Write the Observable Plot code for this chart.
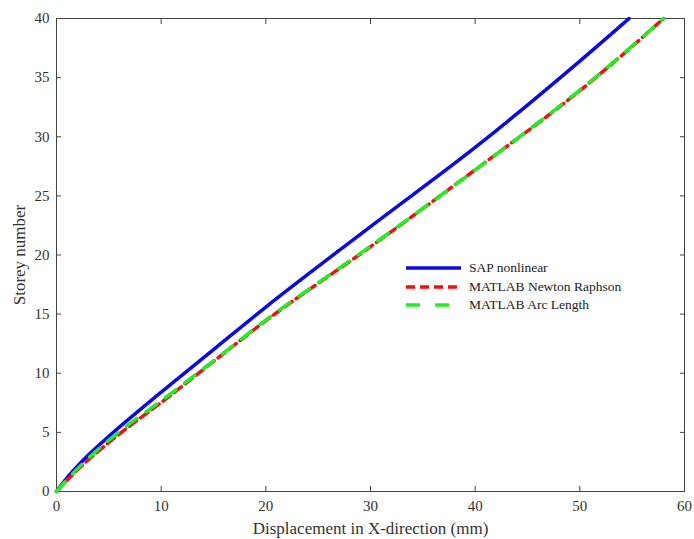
<!DOCTYPE html>
<html>
<head>
<meta charset="utf-8">
<script src="https://cdn.jsdelivr.net/npm/d3@7"></script>
<script src="https://cdn.jsdelivr.net/npm/@observablehq/plot@0.6"></script>
<style>
  body { margin: 0; background: #fff; }
  #wrap { position: relative; width: 694px; height: 539px; font-family: "Liberation Serif", "Times New Roman", serif; }
  #legend { position: absolute; left: 405px; top: 259px; font-size: 13.5px; color: #222; }
  #legend .row { display: flex; align-items: center; height: 18.5px; }
  #legend svg { margin-right: 8px; }
</style>
</head>
<body>
<div id="wrap"></div>
<script>
// Data
const sapX = [0, 1, 2.5, 5.3, 10, 15, 20, 30, 40, 50, 54.7];
const sapY = [0, 1.15, 2.6, 4.9, 8.4, 12.0, 15.6, 22.4, 29.1, 36.4, 40];
const nrX = [0, 1, 2.5, 6.2, 10.4, 15, 20, 30, 40, 50, 58];
const nrY = [0, 0.95, 2.25, 5, 7.8, 11.0, 14.45, 20.7, 27.2, 33.9, 40];
const alX = [0, 1, 2.5, 5.9, 10.2, 15, 20, 30, 40, 50, 58];
const alY = [0, 1.0, 2.35, 5, 7.8, 11.05, 14.5, 20.75, 27.2, 33.95, 40];
const seriesNames = ["SAP nonlinear", "MATLAB Newton Raphson", "MATLAB Arc Length"];
const xTicks = [0, 10, 20, 30, 40, 50, 60];
const yTicks = [0, 5, 10, 15, 20, 25, 30, 35, 40];

const toRows = (xs, ys) => xs.map((x, i) => ({x, y: ys[i]}));
const sap = toRows(sapX, sapY);
const nr = toRows(nrX, nrY);
const al = toRows(alX, alY);

const axisColor = "#444";
const chart = Plot.plot({
  width: 694,
  height: 539,
  marginLeft: 56,
  marginRight: 10,
  marginTop: 18,
  marginBottom: 48,
  style: {fontFamily: "Liberation Serif, Times New Roman, serif", fontSize: "15px", color: "#333", background: "#fff"},
  x: {domain: [0, 60]},
  y: {domain: [0, 40]},
  marks: [
    Plot.frame({stroke: axisColor, strokeWidth: 1}),
    Plot.axisX({ticks: xTicks, anchor: "bottom", tickSize: -5, tickPadding: 14, stroke: axisColor, fontSize: 15,
      label: "Displacement in X-direction (mm)", labelAnchor: "center", labelArrow: "none", labelOffset: 42}),
    Plot.axisX({ticks: xTicks, anchor: "top", tickSize: -5, text: null, stroke: axisColor, label: null}),
    Plot.axisY({ticks: yTicks, anchor: "left", tickSize: -5, tickPadding: 12, stroke: axisColor, fontSize: 15,
      label: "Storey number", labelAnchor: "center", labelArrow: "none", labelOffset: 44}),
    Plot.axisY({ticks: yTicks, anchor: "right", tickSize: -5, text: null, stroke: axisColor, label: null}),
    Plot.line(sap, {x: "x", y: "y", stroke: "#0a0ae6", strokeWidth: 3.5, curve: "monotone-y"}),
    Plot.line(nr, {x: "x", y: "y", stroke: "#f01010", strokeWidth: 3.5, strokeDasharray: "9,5", curve: "monotone-y"}),
    Plot.line(al, {x: "x", y: "y", stroke: "#22ee22", strokeWidth: 3.5, strokeDasharray: "13,11", curve: "monotone-y"})
  ]
});
chart.querySelectorAll("g[aria-label='x-axis label'] text, g[aria-label='y-axis label'] text").forEach(t => {
  t.setAttribute("font-size", "17px");
});
const wrap = document.getElementById("wrap");
wrap.appendChild(chart);

// Legend overlay
const legendStyles = [
  {stroke: "#0a0ae6", dash: null},
  {stroke: "#f01010", dash: "9,5"},
  {stroke: "#22ee22", dash: "14,15"}
];
const legend = document.createElement("div");
legend.id = "legend";
seriesNames.forEach((name, i) => {
  const row = document.createElement("div");
  row.className = "row";
  const s = legendStyles[i];
  row.innerHTML = `<svg width="56" height="8"><line x1="1" y1="4" x2="56" y2="4" stroke="${s.stroke}" stroke-width="3.5" ${s.dash ? `stroke-dasharray="${s.dash}"` : ""}/></svg><span>${name}</span>`;
  legend.appendChild(row);
});
wrap.appendChild(legend);
</script>
</body>
</html>
